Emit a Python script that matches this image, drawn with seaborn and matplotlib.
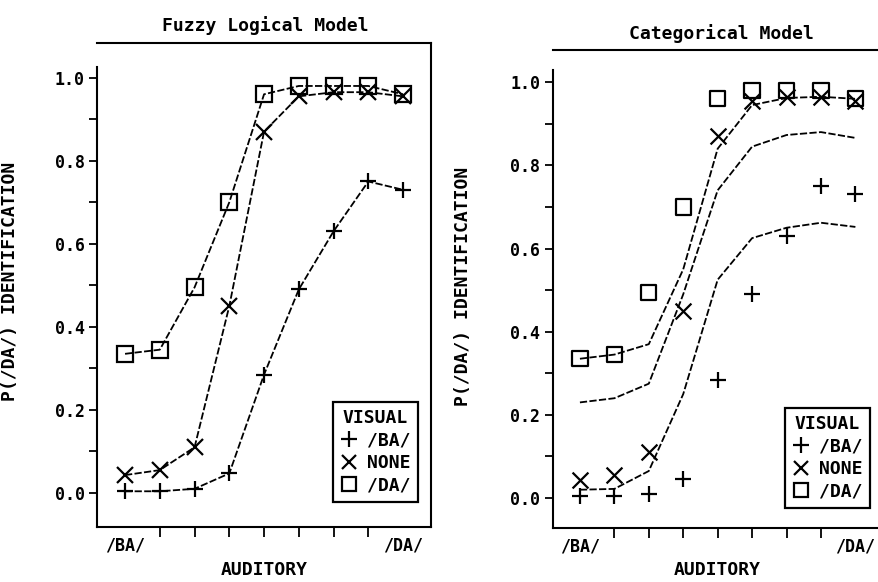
import numpy as np
import pandas as pd
import matplotlib
matplotlib.use("Agg")
import matplotlib.pyplot as plt
import seaborn as sns
from matplotlib.lines import Line2D

# ---------------- data ----------------
levels = [0, 1, 2, 3, 4, 5, 6, 7, 8]           # auditory continuum steps
xtick_labels = ["/BA/", "/DA/"]                  # end points of continuum
visual_labels = ["/BA/", "NONE", "/DA/"]         # visual conditions

# observed P(/DA/) identification
obs_ba = [0.004, 0.004, 0.01, 0.047, 0.285, 0.49, 0.63, 0.75, 0.73]
obs_none = [0.043, 0.055, 0.11, 0.45, 0.87, 0.955, 0.965, 0.965, 0.955]
obs_da = [0.335, 0.345, 0.495, 0.70, 0.96, 0.98, 0.98, 0.98, 0.96]

# categorical model predictions
cat_ba = [0.02, 0.022, 0.065, 0.25, 0.525, 0.625, 0.65, 0.662, 0.652]
cat_none = [0.23, 0.24, 0.275, 0.49, 0.74, 0.845, 0.873, 0.88, 0.866]
cat_da = [0.335, 0.345, 0.37, 0.55, 0.84, 0.945, 0.962, 0.965, 0.96]

yticks = [0.0, 0.2, 0.4, 0.6, 0.8, 1.0]
ytick_labels = ["0.0", "0.2", "0.4", "0.6", "0.8", "1.0"]
yminor = [0.1, 0.3, 0.5, 0.7, 0.9]

obs_df = pd.DataFrame({
    "level": levels * 3,
    "p": obs_ba + obs_none + obs_da,
    "visual": [visual_labels[0]] * 9 + [visual_labels[1]] * 9 + [visual_labels[2]] * 9,
})
cat_df = pd.DataFrame({
    "level": levels * 3,
    "p": cat_ba + cat_none + cat_da,
    "visual": [visual_labels[0]] * 9 + [visual_labels[1]] * 9 + [visual_labels[2]] * 9,
})

markers = {"/BA/": "+", "NONE": "x", "/DA/": "s"}

# ---------------- style ----------------
sns.set_theme(style="ticks")
plt.rcParams["font.family"] = ["DejaVu Sans Mono", "DejaVu Sans"]
plt.rcParams.update({
    "axes.edgecolor": "black",
    "axes.linewidth": 1.5,
    "text.color": "black",
    "axes.labelcolor": "black",
    "xtick.color": "black",
    "ytick.color": "black",
    "font.weight": "bold",
    "axes.labelweight": "bold",
})

FS = 12
DASH = (0, (4, 1.3))

fig = plt.figure(figsize=(8.79, 5.82), dpi=100)
ax1 = fig.add_axes([0.1104, 0.0945, 0.380, 0.832])
ax2 = fig.add_axes([0.629, 0.0928, 0.370, 0.821])

# ---- left: fuzzy logical model (lines through points) ----
for v in visual_labels:
    sub = obs_df[obs_df["visual"] == v]
    sns.lineplot(data=sub, x="level", y="p", ax=ax1, color="black",
                 estimator=None, sort=False, linewidth=1.3, linestyle=DASH,
                 marker=markers[v], markersize=11, markerfacecolor="none",
                 markeredgecolor="black", markeredgewidth=1.6)

# ---- right: categorical model (curves) + observed points ----
for v in visual_labels:
    sub = cat_df[cat_df["visual"] == v]
    sns.lineplot(data=sub, x="level", y="p", ax=ax2, color="black",
                 estimator=None, sort=False, linewidth=1.3, linestyle=DASH)
for v in visual_labels:
    sub = obs_df[obs_df["visual"] == v]
    if markers[v] == "s":
        sns.scatterplot(data=sub, x="level", y="p", ax=ax2, marker="s", s=120,
                        facecolor="none", edgecolor="black", linewidth=1.6)
    else:
        sns.scatterplot(data=sub, x="level", y="p", ax=ax2, marker=markers[v],
                        s=130, color="black", linewidth=1.6)

def style_axes(ax, xlim, ylim, minor_x, title_xy, title, ylabel_xy, xlabel_xy, leg_anchor):
    ax.set_xlim(*xlim)
    ax.set_ylim(*ylim)
    ax.set_yticks(yticks)
    ax.set_yticklabels(ytick_labels, fontsize=FS, fontweight="bold")
    ax.set_yticks(yminor, minor=True)
    ax.set_xticks([levels[0], levels[-1]])
    ax.set_xticklabels(xtick_labels, fontsize=FS, fontweight="bold")
    ax.set_xticks(minor_x, minor=True)
    ax.tick_params(axis="y", which="both", direction="out", length=6, width=1.3, pad=3)
    ax.tick_params(axis="x", which="major", length=0, pad=7)
    ax.tick_params(axis="x", which="minor", direction="out", length=7, width=1.3)
    ax.set_xlabel("AUDITORY", fontsize=FS + 1, fontweight="bold")
    ax.set_ylabel("P(/DA/) IDENTIFICATION", fontsize=FS + 1, fontweight="bold")
    ax.xaxis.set_label_coords(*xlabel_xy)
    ax.yaxis.set_label_coords(*ylabel_xy)
    fig.text(title_xy[0], title_xy[1], title, ha="center", va="center",
             fontsize=FS + 1, fontweight="bold")
    handles = [
        Line2D([], [], marker="+", ls="none", color="black", ms=11, mew=1.6),
        Line2D([], [], marker="x", ls="none", color="black", ms=10, mew=1.6),
        Line2D([], [], marker="s", ls="none", mfc="none", mec="black", ms=10, mew=1.6),
    ]
    leg = ax.legend(handles, visual_labels, title="VISUAL", loc="lower right",
                    bbox_to_anchor=leg_anchor, frameon=True, fancybox=False,
                    edgecolor="black", framealpha=1, borderpad=0.4,
                    labelspacing=0.25, handlelength=1.0, handletextpad=0.5,
                    borderaxespad=0,
                    prop={"family": "DejaVu Sans Mono", "size": FS + 1, "weight": "bold"},
                    title_fontproperties={"family": "DejaVu Sans Mono", "size": FS + 1,
                                          "weight": "bold"})
    leg.get_frame().set_linewidth(1.6)

style_axes(ax1, (-0.806, 8.806), (-0.082, 1.084), [1, 2, 3, 4, 5, 6, 7],
           (0.3015, 0.957), "Fuzzy Logical Model",
           (-0.234, 0.508), (0.5, -0.07), (0.961, 0.052))
style_axes(ax2, (-0.785, 8.66), (-0.072, 1.077), [0, 1, 2, 3, 4, 5, 6, 7, 8],
           (0.821, 0.943), "Categorical Model",
           (-0.249, 0.506), (0.505, -0.07), (0.975, 0.042))
ax2.spines["right"].set_visible(False)
ax1.spines["left"].set_bounds(-0.082, 1.025)
ax2.spines["left"].set_bounds(-0.072, 1.03)

fig.savefig("out.png", dpi=100)
